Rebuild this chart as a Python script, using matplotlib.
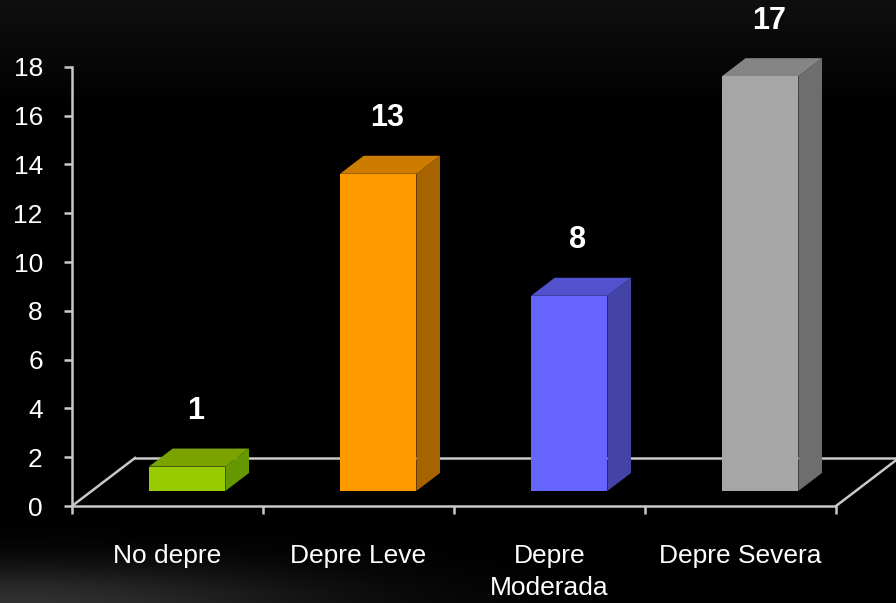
import numpy as np
import matplotlib.pyplot as plt
from matplotlib.patches import Polygon

plt.rcParams['font.family'] = ['Liberation Sans', 'DejaVu Sans']

categories = ["No depre", "Depre Leve", "Depre\nModerada", "Depre Severa"]
values = [1, 13, 8, 17]
front_colors = ["#99CC00", "#FF9900", "#6666FF", "#A6A6A6"]
top_colors = ["#7AA300", "#CC7D00", "#5252CC", "#858585"]
side_colors = ["#669900", "#A66300", "#4444A6", "#6E6E6E"]
yticks = list(range(0, 19, 2))

# depth direction of the fake 3d floor, in data units (x per category, y per value)
DX = 0.33
DY = 1.97
half_w = 0.2
z0, z1 = 0.3125, 0.6875


def proj(x, z, y):
    return (x + z * DX, y + z * DY)


W, H = 896, 603
fig = plt.figure(figsize=(W / 100, H / 100), dpi=100)
fig.patch.set_facecolor("black")

# dark background with a faint haze at the top and bottom-left
bg = fig.add_axes([0, 0, 1, 1], zorder=-5)
yy, xx = np.mgrid[0:H, 0:W]
shade = 0.06 * np.clip(1 - yy / 110.0, 0, 1)
shade += 0.19 * np.exp(-((xx / 330.0) ** 2 + ((H - yy) / 40.0) ** 2))
bg.imshow(np.dstack([shade] * 3), extent=[0, W, 0, H], origin="upper", aspect="auto")
bg.axis("off")

ax = fig.add_axes([72 / W, 97 / H, 824 / W, 506 / H])
ax.set_facecolor("none")
ax.set_xlim(-0.5, -0.5 + 824 / 191)
ax.set_ylim(0, 506 / 24.4)

line_c = "#C8C8C8"
# floor outline
bl = proj(-0.5, 1, 0)
br = proj(3.5, 1, 0)
ax.plot([-0.5, bl[0]], [0, bl[1]], color=line_c, lw=1.8, zorder=1, clip_on=False)
ax.plot([bl[0], br[0] + 0.1], [bl[1], br[1]], color=line_c, lw=1.8, zorder=1)
ax.plot([3.5, br[0]], [0, br[1]], color=line_c, lw=1.8, zorder=1)

for i, v in enumerate(values):
    front = [proj(i - half_w, z0, 0), proj(i + half_w, z0, 0),
             proj(i + half_w, z0, v), proj(i - half_w, z0, v)]
    top = [proj(i - half_w, z0, v), proj(i + half_w, z0, v),
           proj(i + half_w, z1, v), proj(i - half_w, z1, v)]
    side = [proj(i + half_w, z0, 0), proj(i + half_w, z1, 0),
            proj(i + half_w, z1, v), proj(i + half_w, z0, v)]
    ax.add_patch(Polygon(side, closed=True, fc=side_colors[i], ec="none", zorder=3))
    ax.add_patch(Polygon(top, closed=True, fc=top_colors[i], ec="none", zorder=3))
    ax.add_patch(Polygon(front, closed=True, fc=front_colors[i], ec="none", zorder=4))
    lx, ly = proj(i, 0.45, v)
    ax.text(lx, ly + 2.0, str(v), color="white", fontsize=22, fontweight="bold",
            ha="center", va="center", zorder=5)

for s in ["top", "right"]:
    ax.spines[s].set_visible(False)
ax.spines["left"].set_bounds(0, 18)
ax.spines["bottom"].set_bounds(-0.5, 3.5)
for s in ["left", "bottom"]:
    ax.spines[s].set_color(line_c)
    ax.spines[s].set_linewidth(1.8)
    ax.spines[s].set_zorder(2)

ax.set_yticks(yticks)
ax.tick_params(axis="y", colors=line_c, labelcolor="white", labelsize=19,
               length=6, width=1.8, pad=15)
ax.set_xticks([-0.5, 0.5, 1.5, 2.5, 3.5])
ax.set_xticklabels([])
ax.tick_params(axis="x", which="major", colors=line_c, length=6, width=1.8)
ax.set_xticks(range(len(categories)), minor=True)
ax.set_xticklabels(categories, minor=True, linespacing=1.45)
ax.tick_params(axis="x", which="minor", length=0, labelcolor="white", labelsize=19, pad=27)

fig.savefig("out.png", dpi=100, facecolor="black")
